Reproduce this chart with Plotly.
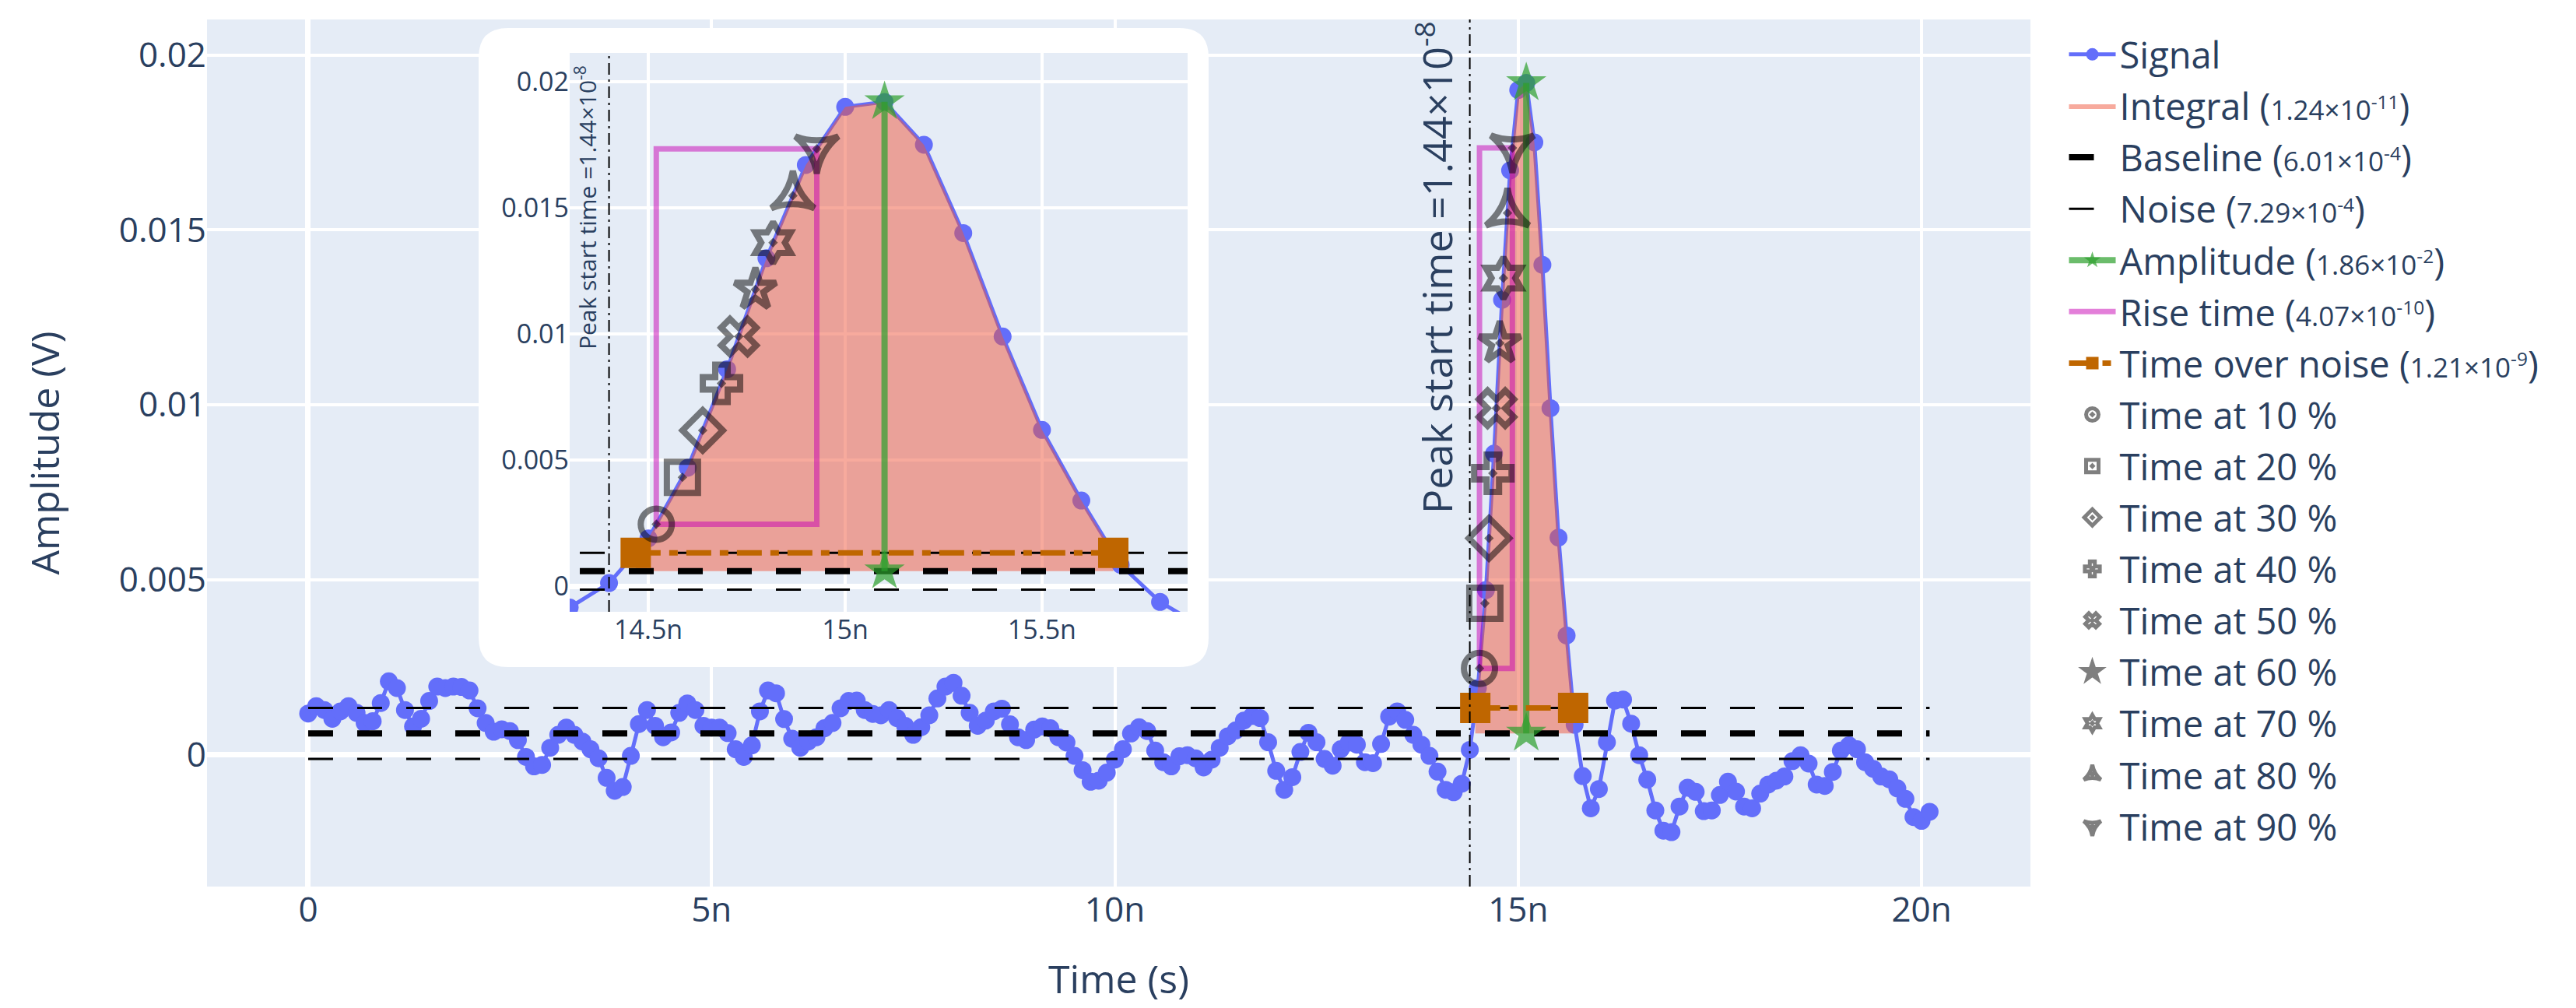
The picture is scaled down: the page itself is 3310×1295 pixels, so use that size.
import numpy as np
import plotly.graph_objects as go

# ---------------- data ----------------
time_ns = [
    0.0, 0.1, 0.2, 0.3, 0.4, 0.5, 0.6, 0.7, 0.8, 0.9,
    1.0, 1.1, 1.2, 1.3, 1.4, 1.5, 1.6, 1.7, 1.8, 1.9,
    2.0, 2.1, 2.2, 2.3, 2.4, 2.5, 2.6, 2.7, 2.8, 2.9,
    3.0, 3.1, 3.2, 3.3, 3.4, 3.5, 3.6, 3.7, 3.8, 3.9,
    4.0, 4.1, 4.2, 4.3, 4.4, 4.5, 4.6, 4.7, 4.8, 4.9,
    5.0, 5.1, 5.2, 5.3, 5.4, 5.5, 5.6, 5.7, 5.8, 5.9,
    6.0, 6.1, 6.2, 6.3, 6.4, 6.5, 6.6, 6.7, 6.8, 6.9,
    7.0, 7.1, 7.2, 7.3, 7.4, 7.5, 7.6, 7.7, 7.8, 7.9,
    8.0, 8.1, 8.2, 8.3, 8.4, 8.5, 8.6, 8.7, 8.8, 8.9,
    9.0, 9.1, 9.2, 9.3, 9.4, 9.5, 9.6, 9.7, 9.8, 9.9,
    10.0, 10.1, 10.2, 10.3, 10.4, 10.5, 10.6, 10.7, 10.8, 10.9,
    11.0, 11.1, 11.2, 11.3, 11.4, 11.5, 11.6, 11.7, 11.8, 11.9,
    12.0, 12.1, 12.2, 12.3, 12.4, 12.5, 12.6, 12.7, 12.8, 12.9,
    13.0, 13.1, 13.2, 13.3, 13.4, 13.5, 13.6, 13.7, 13.8, 13.9,
    14.0, 14.1, 14.2, 14.3, 14.4, 14.5, 14.6, 14.7, 14.8, 14.9,
    15.0, 15.1, 15.2, 15.3, 15.4, 15.5, 15.6, 15.7, 15.8, 15.9,
    16.0, 16.1, 16.2, 16.3, 16.4, 16.5, 16.6, 16.7, 16.8, 16.9,
    17.0, 17.1, 17.2, 17.3, 17.4, 17.5, 17.6, 17.7, 17.8, 17.9,
    18.0, 18.1, 18.2, 18.3, 18.4, 18.5, 18.6, 18.7, 18.8, 18.9,
    19.0, 19.1, 19.2, 19.3, 19.4, 19.5, 19.6, 19.7, 19.8, 19.9,
    20.0, 20.1,
]

signal_mV = [
    1.17, 1.38, 1.27, 1.02, 1.23, 1.38, 1.19, 0.90, 0.95, 1.47,
    2.09, 1.90, 1.27, 0.80, 1.02, 1.53, 1.94, 1.90, 1.94, 1.93,
    1.83, 1.32, 0.90, 0.65, 0.72, 0.67, 0.41, -0.07, -0.34, -0.30,
    0.19, 0.56, 0.77, 0.56, 0.37, 0.15, -0.11, -0.67, -1.04, -0.93,
    -0.04, 0.87, 1.27, 0.82, 0.49, 0.63, 1.19, 1.46, 1.27, 0.82,
    0.77, 0.77, 0.61, 0.15, -0.07, 0.26, 1.23, 1.83, 1.75, 1.01,
    0.45, 0.19, 0.37, 0.49, 0.75, 0.90, 1.32, 1.53, 1.54, 1.27,
    1.16, 1.12, 1.27, 1.04, 0.82, 0.56, 0.78, 1.12, 1.60, 1.94,
    2.05, 1.68, 1.19, 0.82, 0.97, 1.23, 1.31, 0.86, 0.49, 0.41,
    0.71, 0.80, 0.75, 0.49, 0.34, -0.04, -0.45, -0.78, -0.75, -0.52,
    -0.15, 0.15, 0.60, 0.78, 0.67, 0.11, -0.22, -0.34, -0.05, -0.02,
    -0.11, -0.37, -0.15, 0.19, 0.52, 0.69, 0.97, 1.10, 1.04, 0.35,
    -0.47, -1.01, -0.65, 0.07, 0.62, 0.35, -0.13, -0.32, 0.15, 0.34,
    0.28, -0.22, -0.25, 0.30, 1.08, 1.23, 0.99, 0.56, 0.28, -0.04,
    -0.49, -1.01, -1.08, -0.84, 0.13, 1.90, 4.70, 8.60, 13.00, 16.70,
    19.00, 19.20, 17.50, 14.00, 9.90, 6.20, 3.40, 0.85, -0.62, -1.54,
    -0.99, 0.35, 1.54, 1.57, 0.88, -0.02, -0.72, -1.60, -2.18, -2.22,
    -1.49, -0.95, -1.07, -1.62, -1.60, -1.16, -0.78, -1.06, -1.49, -1.54,
    -1.12, -0.86, -0.75, -0.63, -0.19, -0.02, -0.26, -0.86, -0.90, -0.50,
    0.11, 0.26, 0.15, -0.22, -0.41, -0.63, -0.71, -0.97, -1.27, -1.79,
    -1.90, -1.64,
]

# analysis results shown in the legend
baseline_V = 6.01e-4
noise_V = 7.29e-4
amplitude_V = 1.86e-2
integral_Vs = 1.24e-11
rise_time_s = 4.07e-10
time_over_noise_s = 1.21e-9
peak_start_s = 1.44e-8

percent_levels = [10, 20, 30, 40, 50, 60, 70, 80, 90]
percent_symbols = [
    "circle-open-dot", "square-open-dot", "diamond-open-dot", "cross-open-dot",
    "x-open-dot", "star-open-dot", "hexagram-open-dot",
    "star-triangle-up-open-dot", "star-triangle-down-open-dot",
]

# ---------------- derived geometry from the data ----------------
t = np.array(time_ns) * 1e-9
v = np.array(signal_mV) * 1e-3
ipk = int(np.argmax(v))
t_pk = t[ipk]
peak_level = baseline_V + amplitude_V


def rising_cross(level):
    j = ipk
    while j > 0 and v[j - 1] >= level:
        j -= 1
    a, b = j - 1, j
    return t[a] + (level - v[a]) / (v[b] - v[a]) * (t[b] - t[a])


def falling_cross(level):
    j = ipk
    while j < len(v) - 1 and v[j + 1] >= level:
        j += 1
    a, b = j, j + 1
    return t[a] + (level - v[a]) / (v[b] - v[a]) * (t[b] - t[a])


noise_level = baseline_V + noise_V
t_on = rising_cross(noise_level)
t_off = falling_cross(noise_level)
mask = (t > t_on) & (t < t_off)
int_x = [t_on, t_on] + list(t[mask]) + [t_off, t_off, t_on]
int_y = [baseline_V, noise_level] + list(v[mask]) + [noise_level, baseline_V, baseline_V]

lvl = {p: baseline_V + p / 100 * amplitude_V for p in percent_levels}
tcross = {p: rising_cross(lvl[p]) for p in percent_levels}
t10, t90 = tcross[10], tcross[90]

# ---------------- styling ----------------
FONT = "Open Sans, Verdana, Arial, sans-serif"
TXT = "#2a3f5f"
W, H = 3310, 1295
PL, PR, PT, PB = 258, 2601, 17, 1131  # plot-area pixel box
pw, ph = PR - PL, PB - PT
LEG = 47


def px_x(x):
    return (x - PL) / pw


def px_y(y):
    return (PB - y) / ph


def small(s):
    return "<span style='font-size:35px'>" + s + "</span>"


names = {
    "signal": "Signal",
    "integral": "Integral (" + small("1.24×10<sup>-11</sup>") + ")",
    "baseline": "Baseline (" + small("6.01×10<sup>-4</sup>") + ")",
    "noise": "Noise (" + small("7.29×10<sup>-4</sup>") + ")",
    "amp": "Amplitude (" + small("1.86×10<sup>-2</sup>") + ")",
    "rise": "Rise time (" + small("4.07×10<sup>-10</sup>") + ")",
    "ton": "Time over noise (" + small("1.21×10<sup>-9</sup>") + ")",
}

fig = go.Figure()


def add_all(xa, ya, show):
    common = dict(xaxis=xa, yaxis=ya, showlegend=show)
    fig.add_trace(go.Scatter(
        x=t, y=v, mode="lines+markers", name=names["signal"], legendgroup="signal",
        line=dict(color="#636EFA", width=5), marker=dict(size=23, color="#636EFA"), **common))
    fig.add_trace(go.Scatter(
        x=int_x, y=int_y, mode="lines", fill="toself", fillcolor="rgba(239,85,59,0.5)",
        line=dict(width=0, color="rgba(239,85,59,0.5)"), name=names["integral"],
        legendgroup="integral", **common))
    fig.add_trace(go.Scatter(
        x=[t[0], t[-1]], y=[baseline_V, baseline_V], mode="lines", name=names["baseline"],
        legendgroup="baseline", line=dict(color="black", width=8, dash="32px,31px"), **common))
    fig.add_trace(go.Scatter(
        x=[t[0], t[-1], None, t[0], t[-1]],
        y=[baseline_V + noise_V, baseline_V + noise_V, None, baseline_V - noise_V, baseline_V - noise_V],
        mode="lines", name=names["noise"], legendgroup="noise",
        line=dict(color="black", width=3, dash="32px,31px"), **common))
    fig.add_trace(go.Scatter(
        x=[t_pk, t_pk], y=[baseline_V, peak_level], mode="lines+markers", name=names["amp"],
        legendgroup="amp", line=dict(color="rgba(44,160,44,0.7)", width=8),
        marker=dict(symbol="star", size=39, color="rgba(44,160,44,0.7)"), **common))
    fig.add_trace(go.Scatter(
        x=[t10, t10, t90, t90, t10], y=[lvl[10], lvl[90], lvl[90], lvl[10], lvl[10]],
        mode="lines", name=names["rise"], legendgroup="rise",
        line=dict(color="rgba(200,0,180,0.5)", width=7), **common))
    fig.add_trace(go.Scatter(
        x=[t_on, t_off], y=[noise_level, noise_level], mode="lines+markers", name=names["ton"],
        legendgroup="ton", line=dict(color="rgb(191,102,0)", width=7, dash="32px,11px,11px,11px"),
        marker=dict(symbol="square", size=39, color="rgb(191,102,0)"), **common))
    for p, sym in zip(percent_levels, percent_symbols):
        fig.add_trace(go.Scatter(
            x=[tcross[p]], y=[lvl[p]], mode="markers", name=f"Time at {p} %",
            legendgroup=f"p{p}",
            marker=dict(symbol=sym, size=40, color="rgba(0,0,0,0.5)",
                        line=dict(width=8, color="rgba(0,0,0,0.5)")), **common))


add_all("x", "y", True)
add_all("x2", "y2", False)

# rounded white box behind the inset
bx0, bx1 = px_x(607), px_x(1545)
by1, by0 = px_y(28), px_y(849)
rx, ry = 38 / pw, 38 / ph
path = (
    f"M {bx0+rx},{by1} L {bx1-rx},{by1} Q {bx1},{by1} {bx1},{by1-ry} "
    f"L {bx1},{by0+ry} Q {bx1},{by0} {bx1-rx},{by0} "
    f"L {bx0+rx},{by0} Q {bx0},{by0} {bx0},{by0+ry} "
    f"L {bx0},{by1-ry} Q {bx0},{by1} {bx0+rx},{by1} Z"
)
fig.add_shape(type="path", path=path, xref="paper", yref="paper",
              fillcolor="white", line=dict(width=0), layer="below")

# peak start lines
fig.add_shape(type="line", xref="x", yref="y domain", x0=peak_start_s, x1=peak_start_s,
              y0=0, y1=1, line=dict(color="black", width=2, dash="15px,6px,3px,6px"))
fig.add_shape(type="line", xref="x2", yref="y2 domain", x0=peak_start_s, x1=peak_start_s,
              y0=0, y1=1, line=dict(color="black", width=2, dash="15px,6px,3px,6px"))

ann_text = "Peak start time =1.44×10<sup>-8</sup>"
fig.add_annotation(x=peak_start_s, xref="x", y=1, yref="y domain", text=ann_text,
                   textangle=-90, xanchor="right", yanchor="top", showarrow=False,
                   font=dict(size=52, color=TXT, family=FONT), xshift=-6, yshift=0)
fig.add_annotation(x=peak_start_s, xref="x2", y=1, yref="y2 domain", text=ann_text,
                   textangle=-90, xanchor="right", yanchor="top", showarrow=False,
                   font=dict(size=30, color=TXT, family=FONT), xshift=-6, yshift=-14)

axis_common = dict(gridcolor="white", gridwidth=4, zerolinecolor="white", zerolinewidth=7,
                   showline=False, ticks="", exponentformat="SI")

fig.update_layout(
    width=W, height=H,
    margin=dict(l=PL, r=W - PR, t=PT, b=H - PB, autoexpand=False),
    paper_bgcolor="white", plot_bgcolor="#E5ECF6",
    font=dict(family=FONT, color=TXT, size=44),
    xaxis=dict(range=[-1.254e-9, 21.35e-9], dtick=5e-9, tick0=0,
               tickfont=dict(size=44, family=FONT, color=TXT),
               title=dict(text="Time (s)", font=dict(size=50, family=FONT, color=TXT), standoff=44),
               **axis_common),
    yaxis=dict(range=[-0.003778, 0.021016], dtick=0.005, tick0=0,
               tickfont=dict(size=44, family=FONT, color=TXT),
               title=dict(text="Amplitude (V)", font=dict(size=50, family=FONT, color=TXT), standoff=60),
               **axis_common),
    xaxis2=dict(domain=[px_x(724), px_x(1518)], anchor="y2",
                range=[14.3e-9, 15.87e-9], dtick=0.5e-9, tick0=0,
                tickfont=dict(size=34, family=FONT, color=TXT), **axis_common),
    yaxis2=dict(domain=[px_y(778), px_y(60)], anchor="x2",
                range=[-0.00101, 0.02114], dtick=0.005, tick0=0,
                tickfont=dict(size=34, family=FONT, color=TXT), **axis_common),
    legend=dict(x=1.019, xanchor="left", y=0.993, yanchor="top",
                font=dict(size=LEG, color=TXT, family=FONT),
                bgcolor="rgba(0,0,0,0)", tracegroupgap=2, itemwidth=60),
)

fig.write_html("out.html", include_plotlyjs=True, full_html=True,
               config={"displayModeBar": False})
